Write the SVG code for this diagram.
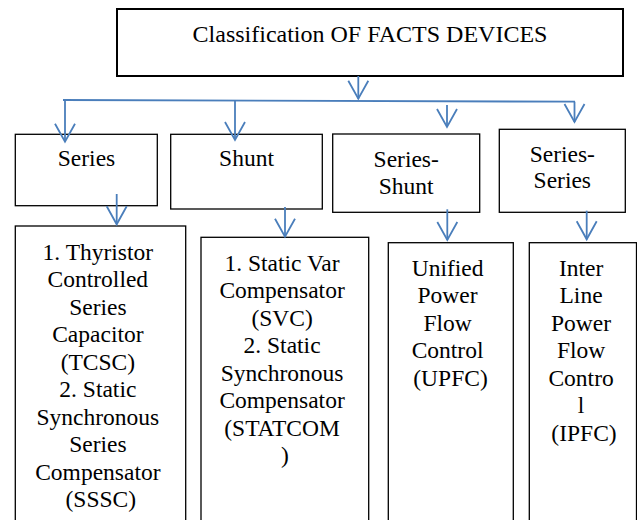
<svg xmlns="http://www.w3.org/2000/svg" width="637" height="520" viewBox="0 0 637 520">
  <style>
    .box { fill: #ffffff; stroke: #000000; stroke-width: 1.3; }
    .root { stroke-width: 2; }
    text { font-family: 'Liberation Serif', 'Times New Roman', Times, serif; font-size: 23.5px; fill: #000000; text-anchor: middle; }
    .title { font-size: 24px; }
    .conn { fill: none; stroke: #4a7ebb; stroke-width: 1.8; marker-end: url(#chev); }
    .bus { fill: none; stroke: #4a7ebb; stroke-width: 1.8; }
  </style>
  <defs>
    <!-- open V arrowhead, drawn in user units -->
    <marker id="chev" markerUnits="userSpaceOnUse" markerWidth="40" markerHeight="40" viewBox="-20 -20 40 40" refX="0" refY="0" orient="auto" overflow="visible">
      <path d="M-18,-10 L0,0 L-18,10" fill="none" stroke="#4a7ebb" stroke-width="1.8" stroke-linejoin="miter"/>
    </marker>
  </defs>
  <rect width="637" height="520" fill="#ffffff"/>

  <g id="facts">
    <rect class="box root" x="117" y="9" width="506" height="67"/>
    <text class="title" font-family="Liberation Serif, serif" x="370" y="41.7">Classification OF FACTS DEVICES</text>
  </g>

  <g id="series">
    <rect class="box" x="15.3" y="134.3" width="142" height="71.4"/>
    <text font-family="Liberation Serif, serif" x="86.5" y="166">Series</text>
  </g>

  <g id="shunt">
    <rect class="box" x="170.7" y="134.3" width="151.6" height="74.7"/>
    <text font-family="Liberation Serif, serif" x="246.5" y="166">Shunt</text>
  </g>

  <g id="series-shunt">
    <rect class="box" x="332.7" y="134" width="147" height="78.3"/>
    <text font-family="Liberation Serif, serif" x="406.2" y="166.5"><tspan x="406.2">Series-</tspan><tspan x="406.2" dy="27.5">Shunt</tspan></text>
  </g>

  <g id="series-series">
    <rect class="box" x="499.3" y="129.3" width="126" height="83"/>
    <text font-family="Liberation Serif, serif" x="562.3" y="161.7"><tspan x="562.3">Series-</tspan><tspan x="562.3" dy="26.7">Series</tspan></text>
  </g>

  <g id="series-devices">
    <rect class="box" x="15.3" y="226" width="170.4" height="310"/>
    <text font-family="Liberation Serif, serif" y="259.8">
      <tspan x="100.8">1. Thyristor</tspan>
      <tspan x="100.8" dy="27.5">Controlled</tspan>
      <tspan x="100.8" dy="27.5">Series</tspan>
      <tspan x="100.8" dy="27.5">Capacitor</tspan>
      <tspan x="100.8" dy="27.5">(TCSC)</tspan>
      <tspan x="100.8" dy="27.5">2. Static</tspan>
      <tspan x="100.8" dy="27.5">Synchronous</tspan>
      <tspan x="100.8" dy="27.5">Series</tspan>
      <tspan x="100.8" dy="27.5">Compensator</tspan>
      <tspan x="100.8" dy="27.5">(SSSC)</tspan>
    </text>
  </g>

  <g id="shunt-devices">
    <rect class="box" x="201" y="237.3" width="167.7" height="300"/>
    <text font-family="Liberation Serif, serif" y="270.5">
      <tspan x="285">1. Static Var</tspan>
      <tspan x="285" dy="27.5">Compensator</tspan>
      <tspan x="285" dy="27.5">(SVC)</tspan>
      <tspan x="285" dy="27.5">2. Static</tspan>
      <tspan x="285" dy="27.5">Synchronous</tspan>
      <tspan x="285" dy="27.5">Compensator</tspan>
      <tspan x="285" dy="27.5">(STATCOM</tspan>
      <tspan x="285" dy="27.5">)</tspan>
    </text>
  </g>

  <g id="upfc">
    <rect class="box" x="388.3" y="242.7" width="125" height="300"/>
    <text font-family="Liberation Serif, serif" y="275.5">
      <tspan x="450.5">Unified</tspan>
      <tspan x="450.5" dy="27.5">Power</tspan>
      <tspan x="450.5" dy="27.5">Flow</tspan>
      <tspan x="450.5" dy="27.5">Control</tspan>
      <tspan x="450.5" dy="27.5">(UPFC)</tspan>
    </text>
  </g>

  <g id="ipfc">
    <rect class="box" x="529.3" y="242.7" width="107.2" height="300"/>
    <text font-family="Liberation Serif, serif" y="275.5">
      <tspan x="584">Inter</tspan>
      <tspan x="584" dy="27.5">Line</tspan>
      <tspan x="584" dy="27.5">Power</tspan>
      <tspan x="584" dy="27.5">Flow</tspan>
      <tspan x="584" dy="27.5">Contro</tspan>
      <tspan x="584" dy="27.5">l</tspan>
      <tspan x="584" dy="27.5">(IPFC)</tspan>
    </text>
  </g>

  <g id="connectors">
    <path class="conn" d="M358.3,76 V98.7"/>
    <path class="bus" d="M63,100 L575,101.7"/>
    <path class="conn" d="M65,100 V141.7"/>
    <path class="conn" d="M235,100.6 V140"/>
    <path class="conn" d="M447,105 V127"/>
    <path class="conn" d="M574.5,101.7 V122"/>
    <path class="conn" d="M116.7,194 V224.3"/>
    <path class="conn" d="M285,207 V236.7"/>
    <path class="conn" d="M447.3,209.3 V240"/>
    <path class="conn" d="M586.7,210.7 V239.3"/>
  </g>
</svg>
